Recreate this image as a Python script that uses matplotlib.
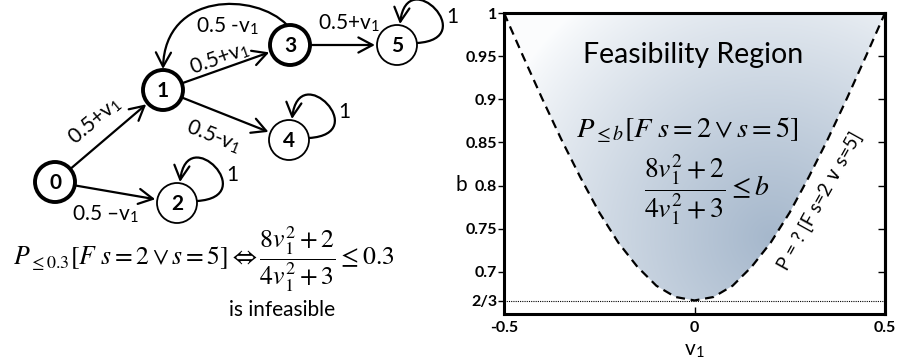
import numpy as np
import matplotlib
matplotlib.use('Agg')
import matplotlib.pyplot as plt
from matplotlib.patches import Circle, FancyArrowPatch, Polygon
from matplotlib.path import Path

plt.rcParams['font.family'] = ['Lato', 'DejaVu Sans']
plt.rcParams['mathtext.fontset'] = 'stix'

W, H = 899, 364
V1 = 'v$_{\\mathregular{1}}$'

# --- Markov chain (left panel), positions in pixels ---
node_ids = ['0', '1', '2', '3', '4', '5']
node_x = [55, 163, 177, 290, 289, 397]
node_y = [182, 90, 203, 45, 140, 45]
node_bold = [True, True, False, True, False, False]
R = 20

edge_src = [0, 0, 1, 1, 3]
edge_dst = [1, 2, 3, 4, 5]
edge_lbl = ['0.5+' + V1, '0.5 \u2013' + V1, '0.5+' + V1, '0.5-' + V1, '0.5+' + V1]
edge_lbl_x = [95, 106, 220, 214, 349]
edge_lbl_y = [121, 214, 58, 136, 23]
edge_lbl_rot = [40, 0, 19.5, -21.6, 0]

back_lbl = '0.5 -' + V1          # 3 -> 1 curved edge
loop_nodes = [2, 4, 5]
loop_lbl = ['1', '1', '1']

# --- feasibility boundary (right panel) ---
v1 = [-0.5, -0.45, -0.4, -0.35, -0.3, -0.25, -0.2, -0.15, -0.1, -0.05, 0.0,
      0.05, 0.1, 0.15, 0.2, 0.25, 0.3, 0.35, 0.4, 0.45, 0.5]
b_bound = [1.0, 0.950, 0.901, 0.854, 0.810, 0.769, 0.734, 0.706, 0.684, 0.671, 0.667,
           0.671, 0.684, 0.706, 0.734, 0.769, 0.810, 0.854, 0.901, 0.950, 1.0]
yticks = [2/3, 0.7, 0.75, 0.8, 0.85, 0.9, 0.95, 1.0]
ytick_lbl = ['2/3', '0.7', '0.75', '0.8', '0.85', '0.9', '0.95', '1']
xticks = [-0.5, 0, 0.5]
xtick_lbl = ['-0.5', '0', '0.5']

fig = plt.figure(figsize=(W / 100, H / 100), dpi=100)

# overlay axes in pixel coordinates
ov = fig.add_axes([0, 0, 1, 1])
ov.set_xlim(0, W)
ov.set_ylim(H, 0)
ov.axis('off')

arrow_kw = dict(arrowstyle='->,head_length=0.6,head_width=0.32', mutation_scale=17,
                color='black', lw=1.6)

for i, name in enumerate(node_ids):
    ov.add_patch(Circle((node_x[i], node_y[i]), R, facecolor='white', edgecolor='black',
                        lw=2.8 if node_bold[i] else 1.3, zorder=3))
    ov.text(node_x[i], node_y[i] + 1, name, ha='center', va='center', fontsize=15,
            fontweight='bold', zorder=4)

for s, d, lbl, lx, ly, rot in zip(edge_src, edge_dst, edge_lbl, edge_lbl_x, edge_lbl_y, edge_lbl_rot):
    ov.add_patch(FancyArrowPatch((node_x[s], node_y[s]), (node_x[d], node_y[d]),
                                 shrinkA=R * 0.72 + 1, shrinkB=R * 0.72 + 1.5, **arrow_kw))
    ov.text(lx, ly, lbl, ha='center', va='center', fontsize=15, rotation=rot)

# curved edge 3 -> 1
x3, y3 = node_x[3], node_y[3]
x1, y1 = node_x[1], node_y[1]
back = Path([(x3 - 3, y3 - R), (x3 - 35, y3 - 53), (x1 + 2, y1 - 98), (x1, y1 - R - 1)],
            [Path.MOVETO, Path.CURVE4, Path.CURVE4, Path.CURVE4])
ov.add_patch(FancyArrowPatch(path=back, shrinkA=0, shrinkB=0, **arrow_kw))
ov.text(227, 26, back_lbl, ha='center', va='center', fontsize=15)

# self loops
for n, lbl in zip(loop_nodes, loop_lbl):
    cx, cy = node_x[n], node_y[n]
    p = Path([(cx + R, cy - 2), (cx + R + 64, cy - 6), (cx + 10, cy - R - 62), (cx + 3, cy - R - 1)],
             [Path.MOVETO, Path.CURVE4, Path.CURVE4, Path.CURVE4])
    ov.add_patch(FancyArrowPatch(path=p, shrinkA=0, shrinkB=0, **arrow_kw))
    ov.text(cx + 55, cy - 28, lbl, ha='center', va='center', fontsize=15)

ov.text(204, 259, r'$P_{\leq 0.3}[F\ s=2\vee s=5]\Leftrightarrow\dfrac{8v_1^2+2}{4v_1^2+3}\leq 0.3$',
        ha='center', va='center', fontsize=18.5)
ov.text(282, 310, 'is infeasible', ha='center', va='center', fontsize=15)

# --- right panel ---
ax = fig.add_axes([504 / W, (H - 314) / H, (885 - 504) / W, (314 - 13) / H])
ax.set_xlim(-0.5, 0.5)
ax.set_ylim(0.6513, 1.0)

poly = Polygon(list(zip(v1, b_bound)) + [(0.5, 1.0), (-0.5, 1.0)], closed=True,
               facecolor='none', edgecolor='none', transform=ax.transData)
ax.add_patch(poly)

# soft bluish gradient inside the feasibility region
gx, gy = np.meshgrid(np.linspace(-0.5, 0.5, 400), np.linspace(0.6513, 1.0, 400))
dx = (gx - 0.2) * 381
dy = (gy - 0.74) / 0.05 * 43.3
t = np.clip(1 - np.sqrt(dx ** 2 + dy ** 2) / 300, 0, 1) ** 0.85
dark = np.array([0.65, 0.72, 0.80])
light = np.array([0.985, 0.99, 0.995])
img = light[None, None, :] * (1 - t[..., None]) + dark[None, None, :] * t[..., None]
im = ax.imshow(img, extent=(-0.5, 0.5, 0.6513, 1.0), origin='lower', aspect='auto',
               interpolation='bilinear', zorder=0)
im.set_clip_path(poly)

ax.plot(v1, b_bound, color='black', lw=1.6, dashes=(4, 2.6), zorder=3)
ax.axhline(2/3, color='black', lw=0.8, ls=(0, (1, 1)), zorder=2)

for sp in ax.spines.values():
    sp.set_linewidth(2.2)

ax.set_yticks(yticks)
ax.set_yticklabels(ytick_lbl, fontweight='bold', fontsize=11.5)
ax.set_xticks(xticks)
ax.set_xticklabels(xtick_lbl, fontweight='bold', fontsize=11.5)
ax.tick_params(axis='y', direction='out', length=4, width=1, pad=1)
ax.tick_params(axis='x', direction='in', length=5, width=1, pad=5)
sec = ax.secondary_yaxis('right')
sec.set_yticks(yticks[1:-1])
sec.set_yticklabels([])
sec.tick_params(direction='in', length=5, width=1)
sec.spines['right'].set_linewidth(2.2)

ax.text(461, 185, 'b', transform=ov.transData, ha='center', va='center', fontsize=15)
ax.text(694, 350, V1, transform=ov.transData, ha='center', va='center', fontsize=15)

ax.text(693, 55, 'Feasibility Region', transform=ov.transData, ha='center', va='center', fontsize=20.5)
ax.text(687, 130, r'$P_{\leq b}[F\ s=2\vee s=5]$', transform=ov.transData,
        ha='center', va='center', fontsize=20.5)
ax.text(707, 190, r'$\dfrac{8v_1^2+2}{4v_1^2+3}\leq b$', transform=ov.transData,
        ha='center', va='center', fontsize=20)
ax.text(820, 201, 'P = ? [F s=2 \u2228 s=5]', transform=ov.transData, ha='center', va='center',
        fontsize=13.5, rotation=61, rotation_mode='anchor')

fig.savefig('out.png', dpi=100)
